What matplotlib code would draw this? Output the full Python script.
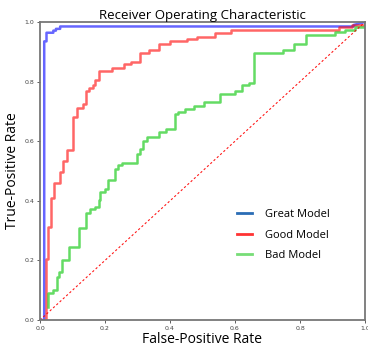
import matplotlib
matplotlib.use("Agg")
import matplotlib.pyplot as plt
from matplotlib.lines import Line2D

# ROC curve vertices (False-Positive Rate, True-Positive Rate)
fpr_great = [0, 0.013, 0.013, 0.02, 0.02, 0.041, 0.041, 0.049, 0.049, 0.062, 0.062, 0.965, 0.965, 1.0]
tpr_great = [0, 0, 0.935, 0.935, 0.964, 0.964, 0.971, 0.971, 0.977, 0.977, 0.985, 0.985, 0.99, 1.0]

fpr_good = [0, 0.017, 0.017, 0.024, 0.024, 0.033, 0.033, 0.043, 0.043, 0.062, 0.062, 0.072, 0.072,
            0.082, 0.082, 0.10, 0.10, 0.113, 0.113, 0.131, 0.131, 0.142, 0.142, 0.152, 0.152, 0.164,
            0.164, 0.169, 0.169, 0.183, 0.183, 0.22, 0.22, 0.258, 0.258, 0.279, 0.279, 0.308, 0.308,
            0.336, 0.336, 0.367, 0.367, 0.40, 0.40, 0.453, 0.453, 0.484, 0.484, 0.537, 0.537, 0.587,
            0.587, 0.92, 0.92, 0.961, 0.961, 1.0, 1.0]
tpr_good = [0, 0, 0.204, 0.204, 0.313, 0.313, 0.41, 0.41, 0.459, 0.459, 0.497, 0.497, 0.534,
            0.534, 0.572, 0.572, 0.68, 0.68, 0.71, 0.71, 0.724, 0.724, 0.768, 0.768, 0.78, 0.78,
            0.79, 0.79, 0.806, 0.806, 0.837, 0.837, 0.847, 0.847, 0.858, 0.858, 0.865, 0.865, 0.895,
            0.895, 0.905, 0.905, 0.927, 0.927, 0.936, 0.936, 0.944, 0.944, 0.951, 0.951, 0.964, 0.964,
            0.974, 0.974, 0.983, 0.983, 0.99, 0.99, 1.0]

fpr_bad = [0.024, 0.024, 0.041, 0.041, 0.051, 0.051, 0.059, 0.059, 0.069, 0.069, 0.09, 0.09, 0.12,
           0.12, 0.142, 0.142, 0.154, 0.154, 0.169, 0.169, 0.18, 0.18, 0.184, 0.184, 0.20, 0.20,
           0.21, 0.21, 0.231, 0.231, 0.241, 0.241, 0.251, 0.251, 0.297, 0.297, 0.308, 0.308, 0.316,
           0.316, 0.328, 0.328, 0.367, 0.367, 0.388, 0.388, 0.415, 0.415, 0.426, 0.426, 0.446, 0.446,
           0.474, 0.474, 0.505, 0.505, 0.554, 0.554, 0.60, 0.60, 0.622, 0.622, 0.643, 0.643, 0.658,
           0.658, 0.748, 0.748, 0.78, 0.78, 0.819, 0.819, 0.907, 0.907, 0.938, 0.938, 0.968, 0.968,
           1.0, 1.0]
tpr_bad = [0.045, 0.089, 0.089, 0.10, 0.10, 0.145, 0.145, 0.162, 0.162, 0.203, 0.203, 0.245, 0.245,
           0.31, 0.31, 0.36, 0.36, 0.374, 0.374, 0.38, 0.38, 0.402, 0.402, 0.428, 0.428, 0.439,
           0.439, 0.469, 0.469, 0.508, 0.508, 0.519, 0.519, 0.527, 0.527, 0.556, 0.556, 0.575, 0.575,
           0.601, 0.601, 0.614, 0.614, 0.631, 0.631, 0.642, 0.642, 0.692, 0.692, 0.698, 0.698, 0.709,
           0.709, 0.717, 0.717, 0.731, 0.731, 0.757, 0.757, 0.77, 0.77, 0.787, 0.787, 0.795, 0.795,
           0.895, 0.895, 0.905, 0.905, 0.927, 0.927, 0.958, 0.958, 0.966, 0.966, 0.974, 0.974, 0.983,
           0.983, 1.0]

chance = [0, 1]
labels = ["Great Model", "Good Model", "Bad Model"]
tick_vals = [0.0, 0.2, 0.4, 0.6, 0.8, 1.0]

fig = plt.figure(figsize=(3.68, 3.5), dpi=100)
ax = fig.add_axes([40 / 368, 1 - 320 / 350, 325 / 368, 298 / 350])

ax.plot(fpr_great, tpr_great, color="blue", lw=1.8, alpha=0.6)
ax.plot(fpr_good, tpr_good, color="red", lw=1.8, alpha=0.6)
ax.plot(fpr_bad, tpr_bad, color="#22cc22", lw=1.8, alpha=0.7)
ax.plot(chance, chance, color="red", lw=0.8, ls=(0, (2, 2)), alpha=0.9)

ax.set_xlim(0, 1)
ax.set_ylim(0, 1)
ax.set_xticks(tick_vals)
ax.set_yticks(tick_vals)
ax.tick_params(labelsize=4.5, length=2, width=0.6, colors="#444444", pad=2)
for s in ax.spines.values():
    s.set_color("#777777")
    s.set_linewidth(1.3)

font = ["Open Sans", "DejaVu Sans"]
ax.set_title("Receiver Operating Characteristic", fontsize=9.5, family=font, pad=1)
ax.set_xlabel("False-Positive Rate", fontsize=10, family=font, labelpad=1)
ax.set_ylabel("True-Positive Rate", fontsize=10, family=font, labelpad=3)

handles = [Line2D([], [], color="#2a6db5", lw=2),
           Line2D([], [], color="#ff3333", lw=2),
           Line2D([], [], color="#77dd77", lw=2)]
ax.legend(handles, labels, loc="center", bbox_to_anchor=(0.75, 0.285), frameon=False,
          handlelength=1.3, handletextpad=1.2, labelspacing=0.85,
          prop={"family": font, "size": 8})

fig.savefig("out.png", dpi=100)
